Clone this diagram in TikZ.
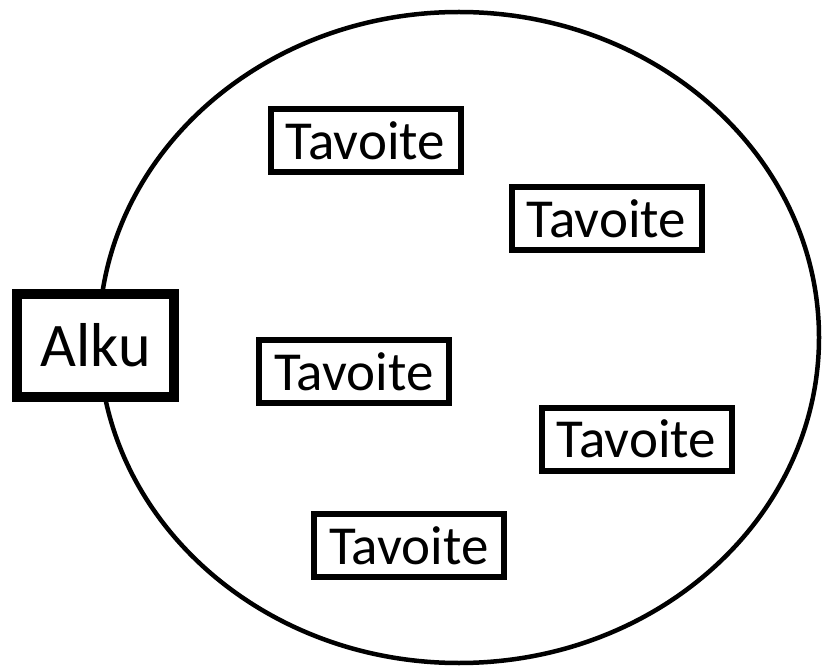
\documentclass[tikz,border=0pt]{standalone}
\usepackage{fontspec}
\setmainfont{Carlito}
\usetikzlibrary{shapes.geometric}
\begin{document}
\begin{tikzpicture}[x=1pt,y=-1pt,
  goalbox/.style={draw=black,line width=6pt,fill=white,inner sep=0pt,
    minimum width=190pt,minimum height=63pt,font=\fontsize{55pt}{55pt}\selectfont},
  startbox/.style={draw=black,line width=10pt,fill=white,inner sep=0pt,
    minimum width=157pt,minimum height=103pt,font=\fontsize{62pt}{62pt}\selectfont}]
\useasboundingbox (0,0) rectangle (822,668);
\node[draw=black,line width=4.5pt,ellipse,minimum width=720pt,minimum height=651pt,inner sep=0pt] (area) at (459,337.5) {};
\node[startbox] (alku) at (95.5,345.5) {Alku};
\node[goalbox] (t1) at (365.5,141) {Tavoite};
\node[goalbox] (t2) at (606.5,218.5) {Tavoite};
\node[goalbox] (t3) at (354,371.5) {Tavoite};
\node[goalbox] (t4) at (636.5,439) {Tavoite};
\node[goalbox] (t5) at (409,545.5) {Tavoite};
\end{tikzpicture}
\end{document}
